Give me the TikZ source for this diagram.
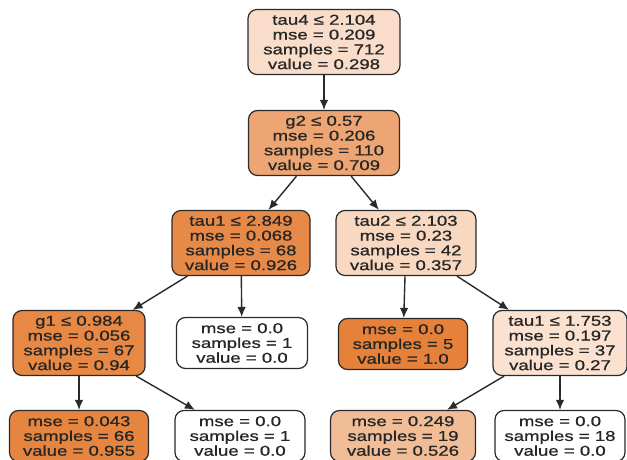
\documentclass[tikz,border=0pt]{standalone}
\usepackage{fontspec}
\newfontfamily\nodefont{Liberation Sans}[FakeStretch=1.3,FakeBold=0.9]
\usetikzlibrary{arrows.meta}
\definecolor{c298}{HTML}{F9DDCA}
\definecolor{c709}{HTML}{EDA673}
\definecolor{c926}{HTML}{E78A48}
\definecolor{c357}{HTML}{F8D8C1}
\definecolor{c940}{HTML}{E78945}
\definecolor{c955}{HTML}{E6853F}
\definecolor{c100}{HTML}{E58139}
\definecolor{c270}{HTML}{FAE1D0}
\definecolor{c526}{HTML}{F1BD97}
\definecolor{edgec}{HTML}{2A2A2A}
\begin{document}
\begin{tikzpicture}[x=1pt,y=-1pt,
  tnode/.style={draw=edgec,line width=1.2pt,rounded corners=9pt,align=center,
    inner sep=0pt,font=\nodefont\fontsize{14.3}{14.8}\selectfont,text=black!85},
  four/.style={tnode,minimum height=65pt},
  three/.style={tnode,minimum height=51pt},
  edge/.style={draw=edgec,line width=1.4pt,-{Latex[length=10pt,width=8.5pt]}}]
\useasboundingbox (0,0) rectangle (627,460);
\node[four,fill=c298,minimum width=152pt] (n0) at (324,42) {tau4 ≤ 2.104\\mse = 0.209\\samples = 712\\value = 0.298};
\node[four,fill=c709,minimum width=151pt] (n1) at (324,143) {g2 ≤ 0.57\\mse = 0.206\\samples = 110\\value = 0.709};
\node[four,fill=c926,minimum width=138pt] (n2) at (241,243) {tau1 ≤ 2.849\\mse = 0.068\\samples = 68\\value = 0.926};
\node[four,fill=c357,minimum width=140pt] (n3) at (406,243) {tau2 ≤ 2.103\\mse = 0.23\\samples = 42\\value = 0.357};
\node[four,fill=c940,minimum width=132pt] (n4) at (79,343) {g1 ≤ 0.984\\mse = 0.056\\samples = 67\\value = 0.94};
\node[three,fill=white,minimum width=131pt] (n5) at (242,343) {mse = 0.0\\samples = 1\\value = 0.0};
\node[three,fill=c100,minimum width=129pt] (n6) at (403,344) {mse = 0.0\\samples = 5\\value = 1.0};
\node[four,fill=c270,minimum width=134pt] (n7) at (560,343) {tau1 ≤ 1.753\\mse = 0.197\\samples = 37\\value = 0.27};
\node[three,fill=c955,minimum width=139pt] (n8) at (79,436) {mse = 0.043\\samples = 66\\value = 0.955};
\node[three,fill=white,minimum width=130pt] (n9) at (240,436) {mse = 0.0\\samples = 1\\value = 0.0};
\node[three,fill=c526,minimum width=145pt] (n10) at (403,436) {mse = 0.249\\samples = 19\\value = 0.526};
\node[three,fill=white,minimum width=130pt] (n11) at (560,436) {mse = 0.0\\samples = 18\\value = 0.0};
\draw[edge] (n0) -- (n1);
\draw[edge] (n1) -- (n2);
\draw[edge] (n1) -- (n3);
\draw[edge] (n2) -- (n4);
\draw[edge] (n2) -- (n5);
\draw[edge] (n3) -- (n6);
\draw[edge] (n3) -- (n7);
\draw[edge] (n4) -- (n8);
\draw[edge] (n4) -- (n9);
\draw[edge] (n7) -- (n10);
\draw[edge] (n7) -- (n11);
\end{tikzpicture}
\end{document}
